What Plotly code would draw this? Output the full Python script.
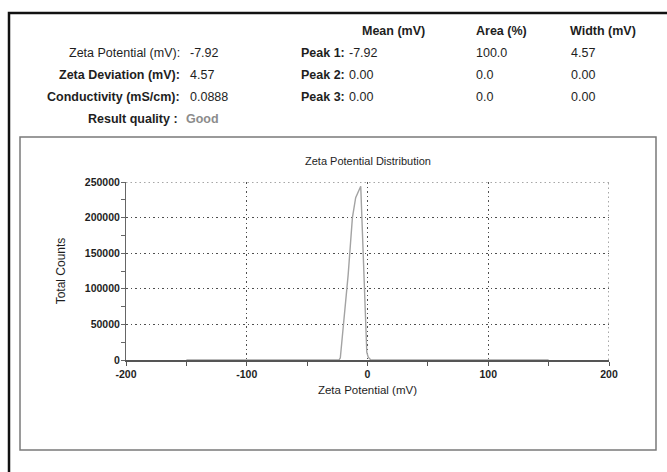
import plotly.graph_objects as go

# Zeta potential distribution (mV vs total counts)
zeta_mv = [-150, -23.6, -22.5, -20.0, -16.0, -12.5, -9.8, -5.6, -0.6, 0.6, 2.8, 150]
total_counts = [0, 0, 3000, 46000, 120000, 200000, 228000, 244000, 11000, 4000, 0, 0]

x_tick_vals = [-200, -100, 0, 100, 200]
x_tick_text = ["-200", "-100", "0", "100", "200"]
y_tick_vals = [0, 50000, 100000, 150000, 200000, 250000]
y_tick_text = ["0", "50000", "100000", "150000", "200000", "250000"]

# Summary block
summary_labels = ["Zeta Potential (mV):", "Zeta Deviation (mV):", "Conductivity (mS/cm):"]
summary_bold = [False, True, True]
summary_values = ["-7.92", "4.57", "0.0888"]
quality_label = "Result quality :"
quality_value = "Good"

# Peak table
peak_headers = ["Mean (mV)", "Area (%)", "Width (mV)"]
peak_names = ["Peak 1:", "Peak 2:", "Peak 3:"]
peak_mean = ["-7.92", "0.00", "0.00"]
peak_area = ["100.0", "0.0", "0.0"]
peak_width = ["4.57", "0.00", "0.00"]

W, H = 667, 472
L, R, T, B = 126, 58, 182, 112
PW, PH = W - L - R, H - T - B


def px(x):
    return (x - L) / PW


def py(y):
    return 1 - (y - T) / PH


FONT = "Liberation Sans, Arial, sans-serif"
TXT = "#1e1e1e"
GRID = "#4f4f4f"
DOTS = "1.5px,3px"

fig = go.Figure()
fig.add_trace(go.Scatter(
    x=zeta_mv, y=total_counts, mode="lines",
    line=dict(color="#a3a3a3", width=1.4),
    showlegend=False, hoverinfo="skip",
))

tickfont = dict(family=FONT, size=10.5, color=TXT, weight="bold")

fig.update_xaxes(
    range=[-200, 200], tickvals=x_tick_vals, ticktext=x_tick_text,
    showline=True, linecolor="#555555", linewidth=1.5,
    ticks="outside", ticklen=4, tickcolor="#555555", tickwidth=1,
    minor=dict(dtick=50, tick0=0, ticks="outside", ticklen=4, tickcolor="#555555", showgrid=False),
    showgrid=True, gridcolor=GRID, gridwidth=1, griddash=DOTS,
    zeroline=False, tickfont=tickfont,
    title=dict(text="Zeta Potential (mV)", font=dict(family=FONT, size=11.5, color=TXT), standoff=7),
)
fig.update_yaxes(
    range=[0, 250000], tickvals=y_tick_vals, ticktext=y_tick_text,
    showline=True, linecolor="#666666", linewidth=1,
    ticks="outside", ticklen=3, tickcolor="#666666", tickwidth=1,
    minor=dict(dtick=25000, tick0=0, ticks="outside", ticklen=4, tickcolor="#666666", showgrid=False),
    showgrid=True, gridcolor=GRID, gridwidth=1, griddash=DOTS,
    zeroline=False, tickfont=tickfont,
    title=dict(text="Total Counts", font=dict(family=FONT, size=12, color=TXT), standoff=16),
)

shapes = [
    # outer page frame
    dict(type="rect", xref="paper", yref="paper",
         x0=px(9), x1=px(700), y0=py(13), y1=py(520),
         line=dict(color="#111111", width=2.5)),
    # chart panel frame
    dict(type="rect", xref="paper", yref="paper",
         x0=px(20), x1=px(656), y0=py(137), y1=py(450),
         line=dict(color="#7a7a7a", width=1.5)),
    # dotted grid along the top and right edges of the plot area
    dict(type="line", xref="x", yref="y", x0=-200, x1=200, y0=250000, y1=250000,
         line=dict(color=GRID, width=1, dash=DOTS)),
    dict(type="line", xref="x", yref="y", x0=200, x1=200, y0=0, y1=250000,
         line=dict(color=GRID, width=1, dash=DOTS)),
]

ann = []


def text(x, y, s, anchor="left", size=12.5, bold=False, color=TXT):
    ann.append(dict(
        x=px(x), y=py(y), xref="paper", yref="paper", text=(f"<b>{s}</b>" if bold else s),
        showarrow=False, xanchor=anchor, yanchor="middle",
        font=dict(family=FONT, size=size, color=color),
    ))


rows_y = [53, 75, 97]
for lab, b, val, y in zip(summary_labels, summary_bold, summary_values, rows_y):
    text(182, y, lab, anchor="right", bold=b)
    text(188, y, val)
text(180, 119, quality_label, anchor="right", bold=True)
text(184, 119, quality_value, bold=True, color="#8c8c8c")

for hdr, x in zip(peak_headers, [360, 474, 568]):
    text(x, 31, hdr, bold=True)
for name, m, a, w, y in zip(peak_names, peak_mean, peak_area, peak_width, rows_y):
    text(299, y, name, bold=True)
    text(347, y, m)
    text(474, y, a)
    text(569, y, w)

text(368, 161, "Zeta Potential Distribution", anchor="center", size=11)

fig.update_layout(
    width=W, height=H,
    margin=dict(l=L, r=R, t=T, b=B, pad=0),
    paper_bgcolor="white", plot_bgcolor="white",
    font=dict(family=FONT, color=TXT),
    shapes=shapes, annotations=ann,
)

fig.write_html("out.html")
